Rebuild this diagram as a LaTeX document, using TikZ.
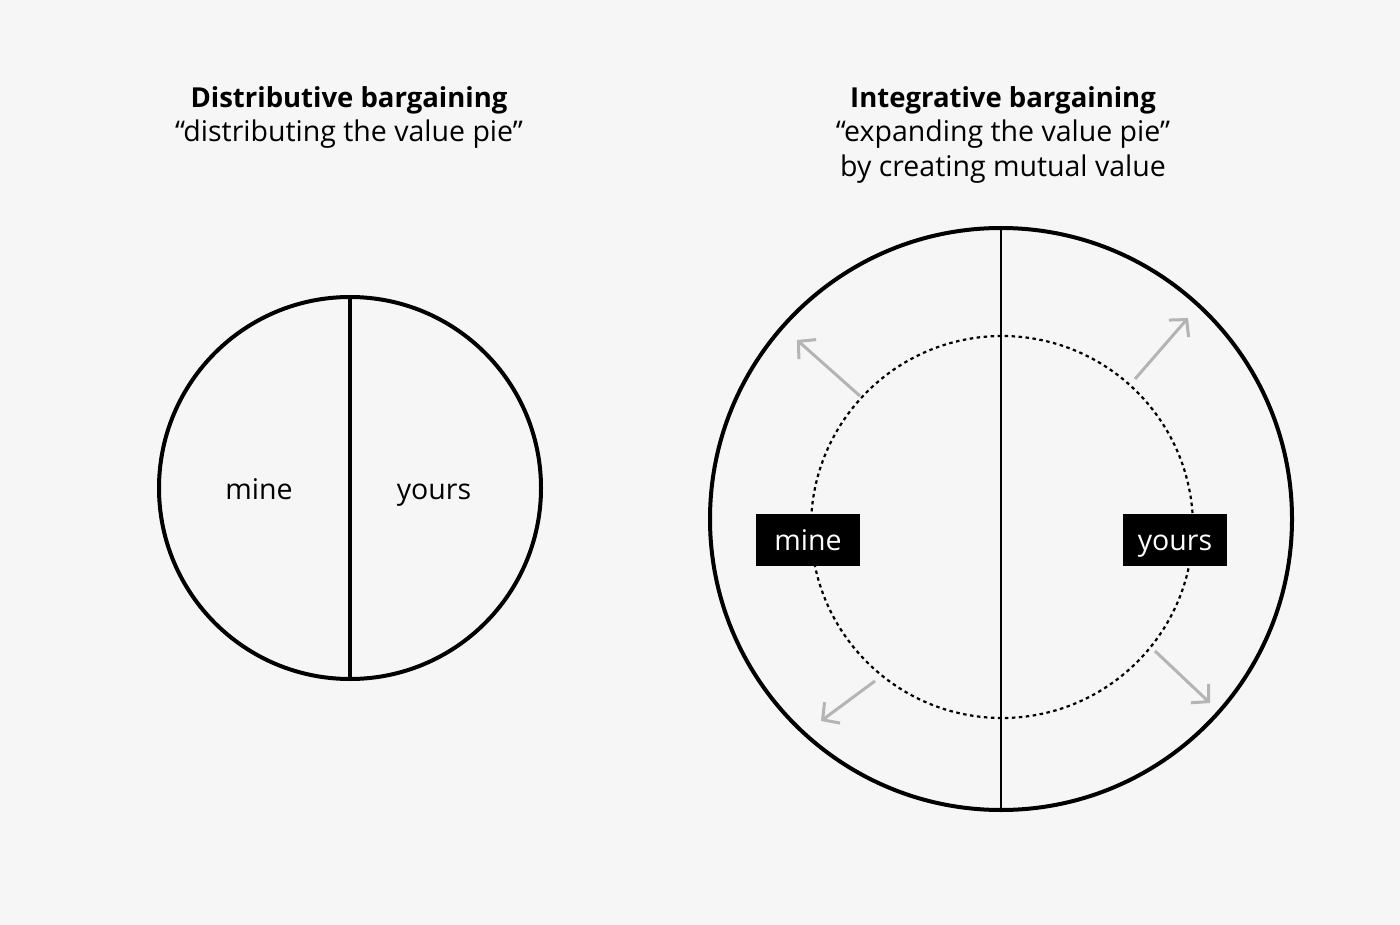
\documentclass[tikz,border=0pt]{standalone}
\usepackage{fontspec}
\setmainfont{Open Sans}
\usetikzlibrary{arrows.meta}
\definecolor{bg}{HTML}{F6F6F6}
\definecolor{arrowgray}{HTML}{B4B4B4}
\tikzset{
  pie/.style={draw=black, line width=4pt},
  divider/.style={draw=black, line width=3.5pt},
  oldpie/.style={draw=black, line width=2.2pt, dash pattern=on 3.5pt off 3.5pt},
  growarrow/.style={draw=arrowgray, line width=3pt,
    -{Straight Barb[length=12pt,width=26pt,line width=3pt]}},
  title/.style={font=\fontsize{27.5}{35}\selectfont\bfseries, align=center},
  subtitle/.style={font=\fontsize{28.5}{35}\selectfont, align=center},
  plain/.style={font=\fontsize{28.5}{35}\selectfont, anchor=base},
  tag/.style={fill=black, text=white, font=\fontsize{28.5}{35}\selectfont,
    minimum width=104pt, minimum height=52pt, inner sep=0pt,
    text height=26pt, text depth=6pt},
}
\begin{document}
\begin{tikzpicture}[x=1pt,y=-1pt]
  \fill[bg] (0,0) rectangle (1400,925);
  \useasboundingbox (0,0) rectangle (1400,925);

  % distributive side
  \node[title] (dtitle) at (349,100) {Distributive bargaining};
  \node[subtitle] (dsub) at (349,134) {“distributing the value pie”};
  \node[circle, pie, minimum size=382pt, inner sep=0pt] (dpie) at (350,488) {};
  \draw[divider] (dpie.north) -- (dpie.south);
  \node[plain] (dmine) at (259,499) {mine};
  \node[plain] (dyours) at (434,499) {yours};

  % integrative side
  \node[title] (ititle) at (1003,100) {Integrative bargaining};
  \node[subtitle] (isub) at (1003,151.5) {“expanding the value pie”\\by creating mutual value};
  \node[circle, pie, minimum size=582pt, inner sep=0pt] (ipie) at (1001,519) {};
  \node[circle, oldpie, minimum size=382pt, inner sep=0pt] (iold) at (1002,527) {};
  \draw[draw=black, line width=2.5pt] (ipie.north) -- (ipie.south);

  \coordinate (a1s) at (860,396); \coordinate (a1e) at (797,340);
  \coordinate (a2s) at (1135,379); \coordinate (a2e) at (1188,318);
  \coordinate (a3s) at (875,681); \coordinate (a3e) at (821,721);
  \coordinate (a4s) at (1155,651); \coordinate (a4e) at (1210,703);
  \draw[growarrow] (a1s) -- (a1e);
  \draw[growarrow] (a2s) -- (a2e);
  \draw[growarrow] (a3s) -- (a3e);
  \draw[growarrow] (a4s) -- (a4e);

  \node[tag] (imine) at (808,540) {mine};
  \node[tag] (iyours) at (1175,540) {yours};
\end{tikzpicture}
\end{document}
